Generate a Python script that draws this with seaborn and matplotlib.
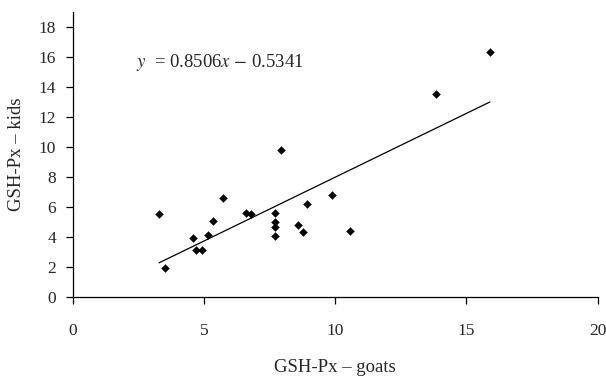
import numpy as np
import pandas as pd
import seaborn as sns
import matplotlib.pyplot as plt

# values
goats = [3.29, 3.53, 4.57, 4.71, 4.91, 5.14, 5.33, 5.74, 6.59, 6.79,
         7.70, 7.70, 7.70, 7.70, 7.92, 8.58, 8.77, 8.91, 9.87, 10.56,
         13.83, 15.90]
kids = [5.49, 1.93, 3.91, 3.09, 3.09, 4.09, 5.07, 6.56, 5.58, 5.49,
        5.58, 5.00, 4.65, 4.07, 9.78, 4.82, 4.33, 6.22, 6.82, 4.42,
        13.49, 16.30]
slope = 0.8506
intercept = -0.5341
x_ticks = [0, 5, 10, 15, 20]
y_ticks = [0, 2, 4, 6, 8, 10, 12, 14, 16, 18]

df = pd.DataFrame({'goats': goats, 'kids': kids})

sns.set_style('ticks')
plt.rcParams['font.family'] = ['Liberation Serif', 'DejaVu Serif']
plt.rcParams['mathtext.fontset'] = 'stix'

fig = plt.figure(figsize=(6.06, 3.81), dpi=100)
ax = fig.add_axes([0.12, 0.221, 0.866, 0.748])

sns.scatterplot(data=df, x='goats', y='kids', marker='D', color='black',
                s=16, edgecolor='black', linewidth=0.3, ax=ax, zorder=3)

# trend line from the printed equation
line_x = np.array([min(goats), max(goats)])
sns.lineplot(x=line_x, y=slope * line_x + intercept, color='black',
             linewidth=0.9, ax=ax)

ax.text(2.4, 15.6, r'$y$  = 0.8506$x$ $-$ 0.5341', fontsize=13.5,
        va='center', ha='left')

ax.set_xlim(0, 20)
ax.set_ylim(0, 19)
ax.set_xticks(x_ticks)
ax.set_yticks(y_ticks)
ax.tick_params(labelsize=12.5, length=5, width=0.9, color='black')
ax.tick_params(axis='x', pad=14)
ax.tick_params(axis='y', pad=7)
for side in ['top', 'right']:
    ax.spines[side].set_visible(False)
for side in ['left', 'bottom']:
    ax.spines[side].set_linewidth(0.9)
    ax.spines[side].set_color('black')

ax.set_xlabel('GSH-Px – goats', fontsize=13.5, labelpad=14)
ax.set_ylabel('GSH-Px – kids', fontsize=13.5, labelpad=10)

fig.savefig('out.png', dpi=100)
